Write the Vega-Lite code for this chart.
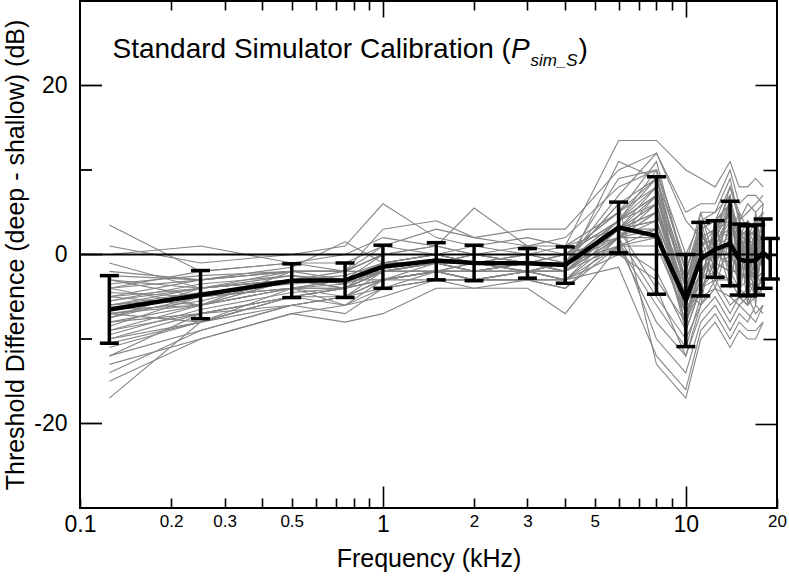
{
"$schema":"https://vega.github.io/schema/vega-lite/v6.json",
"width":697,"height":507,
"autosize":{"type":"none"},
"padding":{"left":80,"top":1,"right":12,"bottom":69},
"background":"white",
"config":{
 "view":{"stroke":"black","strokeWidth":2},
 "font":"Liberation Sans",
 "axis":{"labelFont":"Liberation Sans","titleFont":"Liberation Sans","labelColor":"black","titleColor":"black","tickColor":"black","tickWidth":1.6,"domain":false,"grid":false,"titleFontWeight":"normal","labelOverlap":false,"labelFlush":false}
},
"datasets":{
"one":[{"k":1}],
"ymajor":[{"v":-20},{"v":0},{"v":20}],
"yminor":[{"v":-10},{"v":10}],
"subj":[
{"s":1,"f":0.125,"d":3.5},{"s":1,"f":0.25,"d":-2},{"s":1,"f":0.5,"d":-1},{"s":1,"f":0.75,"d":-1},{"s":1,"f":1,"d":1},{"s":1,"f":1.5,"d":0},{"s":1,"f":2,"d":0},{"s":1,"f":3,"d":0},{"s":1,"f":4,"d":0},{"s":1,"f":6,"d":2},{"s":1,"f":8,"d":5},{"s":1,"f":10,"d":-6},{"s":1,"f":11.2,"d":4},{"s":1,"f":12.5,"d":-2},{"s":1,"f":14,"d":7},{"s":1,"f":15,"d":-1},{"s":1,"f":16,"d":3},{"s":1,"f":17,"d":-3},{"s":1,"f":18,"d":2},
{"s":2,"f":0.125,"d":1},{"s":2,"f":0.25,"d":-1},{"s":2,"f":0.5,"d":0},{"s":2,"f":0.75,"d":1},{"s":2,"f":1,"d":6},{"s":2,"f":1.5,"d":2},{"s":2,"f":2,"d":1},{"s":2,"f":3,"d":2},{"s":2,"f":4,"d":1},{"s":2,"f":6,"d":5},{"s":2,"f":8,"d":8},{"s":2,"f":10,"d":-2},{"s":2,"f":11.2,"d":3},{"s":2,"f":12.5,"d":4},{"s":2,"f":14,"d":6},{"s":2,"f":15,"d":3},{"s":2,"f":16,"d":2},{"s":2,"f":17,"d":4},{"s":2,"f":18,"d":5},
{"s":3,"f":0.125,"d":0},{"s":3,"f":0.25,"d":1},{"s":3,"f":0.5,"d":-1},{"s":3,"f":0.75,"d":0},{"s":3,"f":1,"d":2},{"s":3,"f":1.5,"d":1},{"s":3,"f":2,"d":5.5},{"s":3,"f":3,"d":1},{"s":3,"f":4,"d":2},{"s":3,"f":6,"d":8},{"s":3,"f":8,"d":10},{"s":3,"f":10,"d":0},{"s":3,"f":11.2,"d":4},{"s":3,"f":12.5,"d":2},{"s":3,"f":14,"d":8},{"s":3,"f":15,"d":5},{"s":3,"f":16,"d":3},{"s":3,"f":17,"d":2},{"s":3,"f":18,"d":1},
{"s":4,"f":0.125,"d":-2},{"s":4,"f":0.25,"d":-3},{"s":4,"f":0.5,"d":-2},{"s":4,"f":0.75,"d":-2},{"s":4,"f":1,"d":0},{"s":4,"f":1.5,"d":1},{"s":4,"f":2,"d":0},{"s":4,"f":3,"d":1},{"s":4,"f":4,"d":0},{"s":4,"f":6,"d":4},{"s":4,"f":8,"d":9},{"s":4,"f":10,"d":-4},{"s":4,"f":11.2,"d":-3},{"s":4,"f":12.5,"d":3},{"s":4,"f":14,"d":-2},{"s":4,"f":15,"d":4},{"s":4,"f":16,"d":-4},{"s":4,"f":17,"d":2},{"s":4,"f":18,"d":5},
{"s":5,"f":0.125,"d":-3},{"s":5,"f":0.25,"d":-4},{"s":5,"f":0.5,"d":-3},{"s":5,"f":0.75,"d":-3},{"s":5,"f":1,"d":-1},{"s":5,"f":1.5,"d":0},{"s":5,"f":2,"d":-1},{"s":5,"f":3,"d":0},{"s":5,"f":4,"d":-1},{"s":5,"f":6,"d":3},{"s":5,"f":8,"d":7},{"s":5,"f":10,"d":-5},{"s":5,"f":11.2,"d":3},{"s":5,"f":12.5,"d":-2},{"s":5,"f":14,"d":6},{"s":5,"f":15,"d":-3},{"s":5,"f":16,"d":2},{"s":5,"f":17,"d":-4},{"s":5,"f":18,"d":1},
{"s":6,"f":0.125,"d":-4},{"s":6,"f":0.25,"d":-3},{"s":6,"f":0.5,"d":-2},{"s":6,"f":0.75,"d":-2},{"s":6,"f":1,"d":-2},{"s":6,"f":1.5,"d":-1},{"s":6,"f":2,"d":0},{"s":6,"f":3,"d":-1},{"s":6,"f":4,"d":0},{"s":6,"f":6,"d":2},{"s":6,"f":8,"d":6},{"s":6,"f":10,"d":-7},{"s":6,"f":11.2,"d":-3},{"s":6,"f":12.5,"d":1},{"s":6,"f":14,"d":0},{"s":6,"f":15,"d":-2},{"s":6,"f":16,"d":-3},{"s":6,"f":17,"d":-1},{"s":6,"f":18,"d":0},
{"s":7,"f":0.125,"d":-4.5},{"s":7,"f":0.25,"d":-5},{"s":7,"f":0.5,"d":-3},{"s":7,"f":0.75,"d":-2.5},{"s":7,"f":1,"d":-1},{"s":7,"f":1.5,"d":0},{"s":7,"f":2,"d":-1},{"s":7,"f":3,"d":-1},{"s":7,"f":4,"d":-1},{"s":7,"f":6,"d":6},{"s":7,"f":8,"d":9},{"s":7,"f":10,"d":-3},{"s":7,"f":11.2,"d":2},{"s":7,"f":12.5,"d":3},{"s":7,"f":14,"d":5},{"s":7,"f":15,"d":1},{"s":7,"f":16,"d":2},{"s":7,"f":17,"d":3},{"s":7,"f":18,"d":4},
{"s":8,"f":0.125,"d":-5},{"s":8,"f":0.25,"d":-4},{"s":8,"f":0.5,"d":-2.5},{"s":8,"f":0.75,"d":-3},{"s":8,"f":1,"d":-2},{"s":8,"f":1.5,"d":-1},{"s":8,"f":2,"d":-2},{"s":8,"f":3,"d":-1},{"s":8,"f":4,"d":-2},{"s":8,"f":6,"d":3},{"s":8,"f":8,"d":4},{"s":8,"f":10,"d":-9},{"s":8,"f":11.2,"d":-4},{"s":8,"f":12.5,"d":-1},{"s":8,"f":14,"d":-2},{"s":8,"f":15,"d":-4},{"s":8,"f":16,"d":-5},{"s":8,"f":17,"d":-3},{"s":8,"f":18,"d":-2},
{"s":9,"f":0.125,"d":-5},{"s":9,"f":0.25,"d":-6},{"s":9,"f":0.5,"d":-4},{"s":9,"f":0.75,"d":-3},{"s":9,"f":1,"d":-1},{"s":9,"f":1.5,"d":-1},{"s":9,"f":2,"d":-1},{"s":9,"f":3,"d":-2},{"s":9,"f":4,"d":-1},{"s":9,"f":6,"d":1},{"s":9,"f":8,"d":2},{"s":9,"f":10,"d":-6},{"s":9,"f":11.2,"d":-5},{"s":9,"f":12.5,"d":2},{"s":9,"f":14,"d":-4},{"s":9,"f":15,"d":3},{"s":9,"f":16,"d":-3},{"s":9,"f":17,"d":4},{"s":9,"f":18,"d":-2},
{"s":10,"f":0.125,"d":-5.5},{"s":10,"f":0.25,"d":-4},{"s":10,"f":0.5,"d":-3},{"s":10,"f":0.75,"d":-4},{"s":10,"f":1,"d":-2},{"s":10,"f":1.5,"d":-2},{"s":10,"f":2,"d":-2},{"s":10,"f":3,"d":-1},{"s":10,"f":4,"d":-2},{"s":10,"f":6,"d":2},{"s":10,"f":8,"d":3},{"s":10,"f":10,"d":-8},{"s":10,"f":11.2,"d":-2},{"s":10,"f":12.5,"d":-1},{"s":10,"f":14,"d":2},{"s":10,"f":15,"d":-3},{"s":10,"f":16,"d":-2},{"s":10,"f":17,"d":-4},{"s":10,"f":18,"d":-3},
{"s":11,"f":0.125,"d":-6},{"s":11,"f":0.25,"d":-5},{"s":11,"f":0.5,"d":-3},{"s":11,"f":0.75,"d":-3},{"s":11,"f":1,"d":-1},{"s":11,"f":1.5,"d":0},{"s":11,"f":2,"d":0},{"s":11,"f":3,"d":-1},{"s":11,"f":4,"d":0},{"s":11,"f":6,"d":4},{"s":11,"f":8,"d":8},{"s":11,"f":10,"d":-4},{"s":11,"f":11.2,"d":1},{"s":11,"f":12.5,"d":2},{"s":11,"f":14,"d":6},{"s":11,"f":15,"d":2},{"s":11,"f":16,"d":1},{"s":11,"f":17,"d":0},{"s":11,"f":18,"d":2},
{"s":12,"f":0.125,"d":-6},{"s":12,"f":0.25,"d":-4.5},{"s":12,"f":0.5,"d":-3.5},{"s":12,"f":0.75,"d":-3},{"s":12,"f":1,"d":-3},{"s":12,"f":1.5,"d":-2},{"s":12,"f":2,"d":-1},{"s":12,"f":3,"d":-2},{"s":12,"f":4,"d":-1},{"s":12,"f":6,"d":3},{"s":12,"f":8,"d":6},{"s":12,"f":10,"d":-6},{"s":12,"f":11.2,"d":2},{"s":12,"f":12.5,"d":-3},{"s":12,"f":14,"d":4},{"s":12,"f":15,"d":-5},{"s":12,"f":16,"d":1},{"s":12,"f":17,"d":-6},{"s":12,"f":18,"d":3},
{"s":13,"f":0.125,"d":-6.5},{"s":13,"f":0.25,"d":-5},{"s":13,"f":0.5,"d":-4},{"s":13,"f":0.75,"d":-3},{"s":13,"f":1,"d":0},{"s":13,"f":1.5,"d":0},{"s":13,"f":2,"d":-1},{"s":13,"f":3,"d":0},{"s":13,"f":4,"d":-1},{"s":13,"f":6,"d":9},{"s":13,"f":8,"d":10},{"s":13,"f":10,"d":-2},{"s":13,"f":11.2,"d":3},{"s":13,"f":12.5,"d":4},{"s":13,"f":14,"d":8},{"s":13,"f":15,"d":4},{"s":13,"f":16,"d":5},{"s":13,"f":17,"d":6},{"s":13,"f":18,"d":7},
{"s":14,"f":0.125,"d":-6.5},{"s":14,"f":0.25,"d":-6},{"s":14,"f":0.5,"d":-2},{"s":14,"f":0.75,"d":-2},{"s":14,"f":1,"d":-2},{"s":14,"f":1.5,"d":-1},{"s":14,"f":2,"d":-2},{"s":14,"f":3,"d":-1},{"s":14,"f":4,"d":-1},{"s":14,"f":6,"d":2},{"s":14,"f":8,"d":-5},{"s":14,"f":10,"d":-10},{"s":14,"f":11.2,"d":-6},{"s":14,"f":12.5,"d":-3},{"s":14,"f":14,"d":-6},{"s":14,"f":15,"d":-5},{"s":14,"f":16,"d":-6},{"s":14,"f":17,"d":-5},{"s":14,"f":18,"d":-4},
{"s":15,"f":0.125,"d":-7},{"s":15,"f":0.25,"d":-5.5},{"s":15,"f":0.5,"d":-3},{"s":15,"f":0.75,"d":-4},{"s":15,"f":1,"d":-1},{"s":15,"f":1.5,"d":-1},{"s":15,"f":2,"d":0},{"s":15,"f":3,"d":-1},{"s":15,"f":4,"d":-2},{"s":15,"f":6,"d":3},{"s":15,"f":8,"d":5},{"s":15,"f":10,"d":-5},{"s":15,"f":11.2,"d":-4},{"s":15,"f":12.5,"d":4},{"s":15,"f":14,"d":-3},{"s":15,"f":15,"d":2},{"s":15,"f":16,"d":-6},{"s":15,"f":17,"d":5},{"s":15,"f":18,"d":0},
{"s":16,"f":0.125,"d":-7},{"s":16,"f":0.25,"d":-6},{"s":16,"f":0.5,"d":-4},{"s":16,"f":0.75,"d":-3.5},{"s":16,"f":1,"d":-2},{"s":16,"f":1.5,"d":-1},{"s":16,"f":2,"d":-1},{"s":16,"f":3,"d":-2},{"s":16,"f":4,"d":-1},{"s":16,"f":6,"d":1},{"s":16,"f":8,"d":-2},{"s":16,"f":10,"d":-9},{"s":16,"f":11.2,"d":-4},{"s":16,"f":12.5,"d":-2},{"s":16,"f":14,"d":-3},{"s":16,"f":15,"d":-4},{"s":16,"f":16,"d":-3},{"s":16,"f":17,"d":-5},{"s":16,"f":18,"d":-2},
{"s":17,"f":0.125,"d":-7.5},{"s":17,"f":0.25,"d":-5},{"s":17,"f":0.5,"d":-3},{"s":17,"f":0.75,"d":-3},{"s":17,"f":1,"d":-1},{"s":17,"f":1.5,"d":0},{"s":17,"f":2,"d":-1},{"s":17,"f":3,"d":-1},{"s":17,"f":4,"d":-1},{"s":17,"f":6,"d":4},{"s":17,"f":8,"d":7},{"s":17,"f":10,"d":-3},{"s":17,"f":11.2,"d":2},{"s":17,"f":12.5,"d":3},{"s":17,"f":14,"d":4},{"s":17,"f":15,"d":3},{"s":17,"f":16,"d":1},{"s":17,"f":17,"d":2},{"s":17,"f":18,"d":3},
{"s":18,"f":0.125,"d":-7.5},{"s":18,"f":0.25,"d":-4},{"s":18,"f":0.5,"d":-2},{"s":18,"f":0.75,"d":-2},{"s":18,"f":1,"d":0},{"s":18,"f":1.5,"d":1},{"s":18,"f":2,"d":0},{"s":18,"f":3,"d":0},{"s":18,"f":4,"d":0},{"s":18,"f":6,"d":2},{"s":18,"f":8,"d":4},{"s":18,"f":10,"d":-5},{"s":18,"f":11.2,"d":5},{"s":18,"f":12.5,"d":-1},{"s":18,"f":14,"d":3},{"s":18,"f":15,"d":-4},{"s":18,"f":16,"d":3},{"s":18,"f":17,"d":-2},{"s":18,"f":18,"d":6},
{"s":19,"f":0.125,"d":-8},{"s":19,"f":0.25,"d":-7},{"s":19,"f":0.5,"d":-5},{"s":19,"f":0.75,"d":-4},{"s":19,"f":1,"d":-3},{"s":19,"f":1.5,"d":-2},{"s":19,"f":2,"d":-2},{"s":19,"f":3,"d":-2},{"s":19,"f":4,"d":-2},{"s":19,"f":6,"d":1},{"s":19,"f":8,"d":-8},{"s":19,"f":10,"d":-12},{"s":19,"f":11.2,"d":-7},{"s":19,"f":12.5,"d":-5},{"s":19,"f":14,"d":-8},{"s":19,"f":15,"d":-6},{"s":19,"f":16,"d":-7},{"s":19,"f":17,"d":-8},{"s":19,"f":18,"d":-6},
{"s":20,"f":0.125,"d":-8},{"s":20,"f":0.25,"d":-6},{"s":20,"f":0.5,"d":-3},{"s":20,"f":0.75,"d":-3},{"s":20,"f":1,"d":-2},{"s":20,"f":1.5,"d":-1},{"s":20,"f":2,"d":-1},{"s":20,"f":3,"d":-1},{"s":20,"f":4,"d":-2},{"s":20,"f":6,"d":3},{"s":20,"f":8,"d":5},{"s":20,"f":10,"d":-4},{"s":20,"f":11.2,"d":-6},{"s":20,"f":12.5,"d":3},{"s":20,"f":14,"d":7},{"s":20,"f":15,"d":-2},{"s":20,"f":16,"d":4},{"s":20,"f":17,"d":-3},{"s":20,"f":18,"d":2},
{"s":21,"f":0.125,"d":-8.5},{"s":21,"f":0.25,"d":-5},{"s":21,"f":0.5,"d":-4},{"s":21,"f":0.75,"d":-5},{"s":21,"f":1,"d":-3},{"s":21,"f":1.5,"d":-2},{"s":21,"f":2,"d":-2},{"s":21,"f":3,"d":-2},{"s":21,"f":4,"d":-3},{"s":21,"f":6,"d":0},{"s":21,"f":8,"d":-3},{"s":21,"f":10,"d":-8},{"s":21,"f":11.2,"d":-3},{"s":21,"f":12.5,"d":-1},{"s":21,"f":14,"d":-2},{"s":21,"f":15,"d":-2},{"s":21,"f":16,"d":-3},{"s":21,"f":17,"d":-2},{"s":21,"f":18,"d":-4},
{"s":22,"f":0.125,"d":-9},{"s":22,"f":0.25,"d":-6},{"s":22,"f":0.5,"d":-4},{"s":22,"f":0.75,"d":-4},{"s":22,"f":1,"d":-2},{"s":22,"f":1.5,"d":-1},{"s":22,"f":2,"d":-2},{"s":22,"f":3,"d":-1},{"s":22,"f":4,"d":-1},{"s":22,"f":6,"d":3},{"s":22,"f":8,"d":6},{"s":22,"f":10,"d":-5},{"s":22,"f":11.2,"d":1},{"s":22,"f":12.5,"d":2},{"s":22,"f":14,"d":5},{"s":22,"f":15,"d":2},{"s":22,"f":16,"d":3},{"s":22,"f":17,"d":1},{"s":22,"f":18,"d":2},
{"s":23,"f":0.125,"d":-9},{"s":23,"f":0.25,"d":-7},{"s":23,"f":0.5,"d":-5},{"s":23,"f":0.75,"d":-4},{"s":23,"f":1,"d":-3},{"s":23,"f":1.5,"d":-3},{"s":23,"f":2,"d":-3},{"s":23,"f":3,"d":-2},{"s":23,"f":4,"d":-3},{"s":23,"f":6,"d":1},{"s":23,"f":8,"d":1},{"s":23,"f":10,"d":-7},{"s":23,"f":11.2,"d":-2},{"s":23,"f":12.5,"d":0},{"s":23,"f":14,"d":-1},{"s":23,"f":15,"d":-3},{"s":23,"f":16,"d":-2},{"s":23,"f":17,"d":-3},{"s":23,"f":18,"d":-2},
{"s":24,"f":0.125,"d":-10},{"s":24,"f":0.25,"d":-8},{"s":24,"f":0.5,"d":-5},{"s":24,"f":0.75,"d":-5},{"s":24,"f":1,"d":-4},{"s":24,"f":1.5,"d":-2},{"s":24,"f":2,"d":-3},{"s":24,"f":3,"d":-3},{"s":24,"f":4,"d":-3},{"s":24,"f":6,"d":2},{"s":24,"f":8,"d":-10},{"s":24,"f":10,"d":-14},{"s":24,"f":11.2,"d":-8},{"s":24,"f":12.5,"d":-6},{"s":24,"f":14,"d":-9},{"s":24,"f":15,"d":-7},{"s":24,"f":16,"d":-8},{"s":24,"f":17,"d":-6},{"s":24,"f":18,"d":-7},
{"s":25,"f":0.125,"d":-10},{"s":25,"f":0.25,"d":-7},{"s":25,"f":0.5,"d":-6},{"s":25,"f":0.75,"d":-5},{"s":25,"f":1,"d":-2},{"s":25,"f":1.5,"d":-2},{"s":25,"f":2,"d":-2},{"s":25,"f":3,"d":-2},{"s":25,"f":4,"d":-2},{"s":25,"f":6,"d":4},{"s":25,"f":8,"d":7},{"s":25,"f":10,"d":-3},{"s":25,"f":11.2,"d":3},{"s":25,"f":12.5,"d":4},{"s":25,"f":14,"d":6},{"s":25,"f":15,"d":2},{"s":25,"f":16,"d":3},{"s":25,"f":17,"d":4},{"s":25,"f":18,"d":1},
{"s":26,"f":0.125,"d":-11},{"s":26,"f":0.25,"d":-8},{"s":26,"f":0.5,"d":-4},{"s":26,"f":0.75,"d":-6},{"s":26,"f":1,"d":-4},{"s":26,"f":1.5,"d":-3},{"s":26,"f":2,"d":-3},{"s":26,"f":3,"d":-3},{"s":26,"f":4,"d":-4},{"s":26,"f":6,"d":1},{"s":26,"f":8,"d":3},{"s":26,"f":10,"d":-7},{"s":26,"f":11.2,"d":-3},{"s":26,"f":12.5,"d":-2},{"s":26,"f":14,"d":0},{"s":26,"f":15,"d":-2},{"s":26,"f":16,"d":-3},{"s":26,"f":17,"d":-4},{"s":26,"f":18,"d":-3},
{"s":27,"f":0.125,"d":-12},{"s":27,"f":0.25,"d":-9},{"s":27,"f":0.5,"d":-6},{"s":27,"f":0.75,"d":-5},{"s":27,"f":1,"d":-3},{"s":27,"f":1.5,"d":-2},{"s":27,"f":2,"d":-3},{"s":27,"f":3,"d":-2},{"s":27,"f":4,"d":-2},{"s":27,"f":6,"d":11},{"s":27,"f":8,"d":9},{"s":27,"f":10,"d":-1},{"s":27,"f":11.2,"d":5},{"s":27,"f":12.5,"d":5},{"s":27,"f":14,"d":9},{"s":27,"f":15,"d":4},{"s":27,"f":16,"d":6},{"s":27,"f":17,"d":5},{"s":27,"f":18,"d":6},
{"s":28,"f":0.125,"d":-13},{"s":28,"f":0.25,"d":-10},{"s":28,"f":0.5,"d":-7},{"s":28,"f":0.75,"d":-6},{"s":28,"f":1,"d":-5},{"s":28,"f":1.5,"d":-3},{"s":28,"f":2,"d":-4},{"s":28,"f":3,"d":-3},{"s":28,"f":4,"d":-3},{"s":28,"f":6,"d":-1.5},{"s":28,"f":8,"d":-12},{"s":28,"f":10,"d":-16},{"s":28,"f":11.2,"d":-9},{"s":28,"f":12.5,"d":-7},{"s":28,"f":14,"d":-10},{"s":28,"f":15,"d":-8},{"s":28,"f":16,"d":-9},{"s":28,"f":17,"d":-9},{"s":28,"f":18,"d":-8},
{"s":29,"f":0.125,"d":-14},{"s":29,"f":0.25,"d":-9},{"s":29,"f":0.5,"d":-6},{"s":29,"f":0.75,"d":-7},{"s":29,"f":1,"d":-4},{"s":29,"f":1.5,"d":-3},{"s":29,"f":2,"d":-3},{"s":29,"f":3,"d":-3},{"s":29,"f":4,"d":-4},{"s":29,"f":6,"d":2},{"s":29,"f":8,"d":2},{"s":29,"f":10,"d":-8},{"s":29,"f":11.2,"d":-4},{"s":29,"f":12.5,"d":-3},{"s":29,"f":14,"d":-3},{"s":29,"f":15,"d":-5},{"s":29,"f":16,"d":-4},{"s":29,"f":17,"d":-3},{"s":29,"f":18,"d":-5},
{"s":30,"f":0.125,"d":-15},{"s":30,"f":0.25,"d":-10},{"s":30,"f":0.5,"d":-7},{"s":30,"f":0.75,"d":-8},{"s":30,"f":1,"d":-7},{"s":30,"f":1.5,"d":-4},{"s":30,"f":2,"d":-4},{"s":30,"f":3,"d":-4},{"s":30,"f":4,"d":-7},{"s":30,"f":6,"d":1},{"s":30,"f":8,"d":-6},{"s":30,"f":10,"d":-11},{"s":30,"f":11.2,"d":-5},{"s":30,"f":12.5,"d":-4},{"s":30,"f":14,"d":-5},{"s":30,"f":15,"d":-6},{"s":30,"f":16,"d":-5},{"s":30,"f":17,"d":-7},{"s":30,"f":18,"d":-6},
{"s":31,"f":0.125,"d":-17},{"s":31,"f":0.25,"d":-8},{"s":31,"f":0.5,"d":-5},{"s":31,"f":0.75,"d":-6},{"s":31,"f":1,"d":-3},{"s":31,"f":1.5,"d":-2},{"s":31,"f":2,"d":-3},{"s":31,"f":3,"d":-2},{"s":31,"f":4,"d":-3},{"s":31,"f":6,"d":3},{"s":31,"f":8,"d":4},{"s":31,"f":10,"d":-6},{"s":31,"f":11.2,"d":-2},{"s":31,"f":12.5,"d":1},{"s":31,"f":14,"d":2},{"s":31,"f":15,"d":-1},{"s":31,"f":16,"d":-2},{"s":31,"f":17,"d":0},{"s":31,"f":18,"d":-1},
{"s":32,"f":0.125,"d":-5},{"s":32,"f":0.25,"d":-3},{"s":32,"f":0.5,"d":-2},{"s":32,"f":0.75,"d":-2},{"s":32,"f":1,"d":1},{"s":32,"f":1.5,"d":3},{"s":32,"f":2,"d":2},{"s":32,"f":3,"d":1},{"s":32,"f":4,"d":1},{"s":32,"f":6,"d":13.5},{"s":32,"f":8,"d":13.5},{"s":32,"f":10,"d":10},{"s":32,"f":11.2,"d":9},{"s":32,"f":12.5,"d":8},{"s":32,"f":14,"d":11},{"s":32,"f":15,"d":8},{"s":32,"f":16,"d":8},{"s":32,"f":17,"d":9},{"s":32,"f":18,"d":8},
{"s":33,"f":0.125,"d":-4},{"s":33,"f":0.25,"d":-2},{"s":33,"f":0.5,"d":-1},{"s":33,"f":0.75,"d":-2},{"s":33,"f":1,"d":3},{"s":33,"f":1.5,"d":4},{"s":33,"f":2,"d":2},{"s":33,"f":3,"d":3},{"s":33,"f":4,"d":3},{"s":33,"f":6,"d":10},{"s":33,"f":8,"d":12},{"s":33,"f":10,"d":5},{"s":33,"f":11.2,"d":6},{"s":33,"f":12.5,"d":6},{"s":33,"f":14,"d":10},{"s":33,"f":15,"d":6},{"s":33,"f":16,"d":7},{"s":33,"f":17,"d":7},{"s":33,"f":18,"d":6},
{"s":34,"f":0.125,"d":-3},{"s":34,"f":0.25,"d":-5},{"s":34,"f":0.5,"d":-4},{"s":34,"f":0.75,"d":-4},{"s":34,"f":1,"d":-1},{"s":34,"f":1.5,"d":-1},{"s":34,"f":2,"d":-2},{"s":34,"f":3,"d":-1},{"s":34,"f":4,"d":-1},{"s":34,"f":6,"d":6},{"s":34,"f":8,"d":-13},{"s":34,"f":10,"d":-17},{"s":34,"f":11.2,"d":-10},{"s":34,"f":12.5,"d":-8},{"s":34,"f":14,"d":-11},{"s":34,"f":15,"d":-9},{"s":34,"f":16,"d":-10},{"s":34,"f":17,"d":-10},{"s":34,"f":18,"d":-8},
{"s":35,"f":0.125,"d":-6},{"s":35,"f":0.25,"d":-4},{"s":35,"f":0.5,"d":-3},{"s":35,"f":0.75,"d":-3},{"s":35,"f":1,"d":-2},{"s":35,"f":1.5,"d":-1},{"s":35,"f":2,"d":-1},{"s":35,"f":3,"d":-1},{"s":35,"f":4,"d":-1},{"s":35,"f":6,"d":7},{"s":35,"f":8,"d":12},{"s":35,"f":10,"d":4},{"s":35,"f":11.2,"d":2},{"s":35,"f":12.5,"d":3},{"s":35,"f":14,"d":6},{"s":35,"f":15,"d":3},{"s":35,"f":16,"d":2},{"s":35,"f":17,"d":3},{"s":35,"f":18,"d":4},
{"s":36,"f":0.125,"d":-2.5},{"s":36,"f":0.25,"d":-3},{"s":36,"f":0.5,"d":-1.5},{"s":36,"f":0.75,"d":1.5},{"s":36,"f":1,"d":-1},{"s":36,"f":1.5,"d":0},{"s":36,"f":2,"d":-1},{"s":36,"f":3,"d":0},{"s":36,"f":4,"d":1},{"s":36,"f":6,"d":3},{"s":36,"f":8,"d":3},{"s":36,"f":10,"d":-6},{"s":36,"f":11.2,"d":1},{"s":36,"f":12.5,"d":-4},{"s":36,"f":14,"d":2},{"s":36,"f":15,"d":5},{"s":36,"f":16,"d":-5},{"s":36,"f":17,"d":4},{"s":36,"f":18,"d":-1},
{"s":37,"f":0.125,"d":-3.5},{"s":37,"f":0.25,"d":-2.5},{"s":37,"f":0.5,"d":-2},{"s":37,"f":0.75,"d":-3},{"s":37,"f":1,"d":-1},{"s":37,"f":1.5,"d":-1},{"s":37,"f":2,"d":0},{"s":37,"f":3,"d":-1},{"s":37,"f":4,"d":-1},{"s":37,"f":6,"d":4},{"s":37,"f":8,"d":6},{"s":37,"f":10,"d":-5},{"s":37,"f":11.2,"d":0},{"s":37,"f":12.5,"d":2},{"s":37,"f":14,"d":3},{"s":37,"f":15,"d":1},{"s":37,"f":16,"d":0},{"s":37,"f":17,"d":2},{"s":37,"f":18,"d":1},
{"s":38,"f":0.125,"d":-9.5},{"s":38,"f":0.25,"d":-6.5},{"s":38,"f":0.5,"d":-4.5},{"s":38,"f":0.75,"d":-4},{"s":38,"f":1,"d":-2},{"s":38,"f":1.5,"d":-1},{"s":38,"f":2,"d":-1},{"s":38,"f":3,"d":-1},{"s":38,"f":4,"d":-2},{"s":38,"f":6,"d":2},{"s":38,"f":8,"d":7},{"s":38,"f":10,"d":-6},{"s":38,"f":11.2,"d":-1},{"s":38,"f":12.5,"d":1},{"s":38,"f":14,"d":4},{"s":38,"f":15,"d":0},{"s":38,"f":16,"d":-2},{"s":38,"f":17,"d":1},{"s":38,"f":18,"d":-1},
{"s":39,"f":0.125,"d":-1},{"s":39,"f":0.25,"d":-4},{"s":39,"f":0.5,"d":-3},{"s":39,"f":0.75,"d":-2},{"s":39,"f":1,"d":0},{"s":39,"f":1.5,"d":0},{"s":39,"f":2,"d":1},{"s":39,"f":3,"d":0},{"s":39,"f":4,"d":0},{"s":39,"f":6,"d":5},{"s":39,"f":8,"d":9},{"s":39,"f":10,"d":-4},{"s":39,"f":11.2,"d":2},{"s":39,"f":12.5,"d":1},{"s":39,"f":14,"d":5},{"s":39,"f":15,"d":-1},{"s":39,"f":16,"d":2},{"s":39,"f":17,"d":0},{"s":39,"f":18,"d":3},
{"s":40,"f":0.125,"d":-12},{"s":40,"f":0.25,"d":-7},{"s":40,"f":0.5,"d":-5},{"s":40,"f":0.75,"d":-4},{"s":40,"f":1,"d":-2},{"s":40,"f":1.5,"d":-2},{"s":40,"f":2,"d":-2},{"s":40,"f":3,"d":-1},{"s":40,"f":4,"d":-2},{"s":40,"f":6,"d":3},{"s":40,"f":8,"d":8},{"s":40,"f":10,"d":-7},{"s":40,"f":11.2,"d":-2},{"s":40,"f":12.5,"d":0},{"s":40,"f":14,"d":1},{"s":40,"f":15,"d":-2},{"s":40,"f":16,"d":-1},{"s":40,"f":17,"d":-3},{"s":40,"f":18,"d":0},
{"s":41,"f":0.125,"d":-5.5},{"s":41,"f":0.25,"d":-3.5},{"s":41,"f":0.5,"d":-2.5},{"s":41,"f":0.75,"d":-3.5},{"s":41,"f":1,"d":-1},{"s":41,"f":1.5,"d":-1},{"s":41,"f":2,"d":-1},{"s":41,"f":3,"d":-2},{"s":41,"f":4,"d":-1},{"s":41,"f":6,"d":4},{"s":41,"f":8,"d":10},{"s":41,"f":10,"d":-9},{"s":41,"f":11.2,"d":3},{"s":41,"f":12.5,"d":-1},{"s":41,"f":14,"d":6},{"s":41,"f":15,"d":2},{"s":41,"f":16,"d":-3},{"s":41,"f":17,"d":3},{"s":41,"f":18,"d":-2},
{"s":42,"f":0.125,"d":-7},{"s":42,"f":0.25,"d":-8},{"s":42,"f":0.5,"d":-5},{"s":42,"f":0.75,"d":-4},{"s":42,"f":1,"d":-3},{"s":42,"f":1.5,"d":-1},{"s":42,"f":2,"d":-2},{"s":42,"f":3,"d":-2},{"s":42,"f":4,"d":-2},{"s":42,"f":6,"d":2},{"s":42,"f":8,"d":5},{"s":42,"f":10,"d":-3},{"s":42,"f":11.2,"d":1},{"s":42,"f":12.5,"d":3},{"s":42,"f":14,"d":2},{"s":42,"f":15,"d":3},{"s":42,"f":16,"d":1},{"s":42,"f":17,"d":-1},{"s":42,"f":18,"d":2},
{"s":43,"f":0.125,"d":-4},{"s":43,"f":0.25,"d":-6},{"s":43,"f":0.5,"d":-3},{"s":43,"f":0.75,"d":-3},{"s":43,"f":1,"d":-2},{"s":43,"f":1.5,"d":-2},{"s":43,"f":2,"d":-1},{"s":43,"f":3,"d":-1},{"s":43,"f":4,"d":0},{"s":43,"f":6,"d":5},{"s":43,"f":8,"d":11},{"s":43,"f":10,"d":-2},{"s":43,"f":11.2,"d":4},{"s":43,"f":12.5,"d":5},{"s":43,"f":14,"d":7},{"s":43,"f":15,"d":2},{"s":43,"f":16,"d":4},{"s":43,"f":17,"d":3},{"s":43,"f":18,"d":5},
{"s":44,"f":0.125,"d":-10.5},{"s":44,"f":0.25,"d":-8},{"s":44,"f":0.5,"d":-6},{"s":44,"f":0.75,"d":-5},{"s":44,"f":1,"d":-3},{"s":44,"f":1.5,"d":-2},{"s":44,"f":2,"d":-3},{"s":44,"f":3,"d":-2},{"s":44,"f":4,"d":-2},{"s":44,"f":6,"d":3},{"s":44,"f":8,"d":-4},{"s":44,"f":10,"d":-12},{"s":44,"f":11.2,"d":-6},{"s":44,"f":12.5,"d":-4},{"s":44,"f":14,"d":-7},{"s":44,"f":15,"d":-5},{"s":44,"f":16,"d":-6},{"s":44,"f":17,"d":-4},{"s":44,"f":18,"d":-5}
],
"mean":[
{"f":0.125,"m":-6.5,"lo":-10.5,"hi":-2.5},
{"f":0.25,"m":-4.8,"lo":-7.6,"hi":-1.9},
{"f":0.5,"m":-3.1,"lo":-5.1,"hi":-1.1},
{"f":0.75,"m":-3.05,"lo":-5.1,"hi":-1.0},
{"f":1,"m":-1.45,"lo":-4.0,"hi":1.1},
{"f":1.5,"m":-0.7,"lo":-3.0,"hi":1.4},
{"f":2,"m":-1.0,"lo":-3.1,"hi":1.1},
{"f":3,"m":-1.05,"lo":-2.8,"hi":0.7},
{"f":4,"m":-1.25,"lo":-3.4,"hi":0.9},
{"f":6,"m":3.2,"lo":0.2,"hi":6.2},
{"f":8,"m":2.2,"lo":-4.7,"hi":9.2},
{"f":10,"m":-5.4,"lo":-10.9,"hi":0.0},
{"f":11.2,"m":-0.5,"lo":-4.9,"hi":3.8},
{"f":12.5,"m":0.6,"lo":-2.7,"hi":4.0},
{"f":14,"m":1.3,"lo":-3.7,"hi":6.3},
{"f":15,"m":-0.6,"lo":-4.8,"hi":3.6},
{"f":16,"m":-0.8,"lo":-4.9,"hi":3.4},
{"f":17,"m":-0.7,"lo":-4.8,"hi":3.5},
{"f":18,"m":0.2,"lo":-4.0,"hi":4.2},
{"f":19,"m":-0.5,"lo":-2.9,"hi":1.9}
]
},
"resolve":{"axis":{"x":"independent","y":"independent"}},
"layer":[
{
 "data":{"name":"subj"},
 "mark":{"type":"line","color":"#858585","strokeWidth":1.1},
 "encoding":{
  "x":{"field":"f","type":"quantitative","scale":{"type":"log","domain":[0.1,20],"nice":false},
   "axis":{"orient":"bottom","values":[0.1,0.2,0.3,0.4,0.5,0.6,0.7,0.8,0.9,1,2,3,4,5,6,7,8,9,10,20],
    "labelExpr":"indexof([0.1,0.2,0.3,0.5,1,2,3,5,10,20], datum.value) >= 0 ? '' + datum.value : ''",
    "labelFontSize":{"condition":{"test":"datum.value == 0.1 || datum.value == 1 || datum.value == 10","value":23},"value":17},
    "tickSize":{"condition":{"test":"datum.value == 1 || datum.value == 10","value":-22},"value":-10},
    "labelPadding":{"condition":{"test":"datum.value == 1 || datum.value == 10","value":27},"value":15},
    "labelBaseline":"top",
    "title":"Frequency (kHz)","titleFontSize":25,"titlePadding":10}},
  "y":{"field":"d","type":"quantitative","scale":{"domain":[-30,30],"nice":false,"zero":false},
   "axis":{"orient":"left","values":[-20,0,20],
    "labelExpr":"'' + datum.value",
    "labelFontSize":23,
    "ticks":false,"labelPadding":13,
    "title":"Threshold Difference (deep - shallow) (dB)","titleFontSize":25,"titlePadding":5}},
  "detail":{"field":"s","type":"nominal"}
 }
},
{
 "data":{"name":"ymajor"},
 "mark":{"type":"rule","color":"black","strokeWidth":1.8},
 "encoding":{
  "x":{"datum":0.1,"type":"quantitative","axis":null},
  "x2":{"datum":0.1182},
  "y":{"field":"v","type":"quantitative","axis":null}
 }
},
{
 "data":{"name":"yminor"},
 "mark":{"type":"rule","color":"black","strokeWidth":1.8},
 "encoding":{
  "x":{"datum":0.1,"type":"quantitative","axis":null},
  "x2":{"datum":0.1096},
  "y":{"field":"v","type":"quantitative","axis":null}
 }
},
{
 "data":{"name":"one"},
 "mark":{"type":"rule","color":"black","strokeWidth":2},
 "encoding":{"y":{"datum":0,"type":"quantitative","axis":null}}
},
{
 "data":{"name":"mean"},
 "mark":{"type":"rule","color":"black","strokeWidth":3.5},
 "encoding":{
  "x":{"field":"f","type":"quantitative","axis":null},
  "y":{"field":"lo","type":"quantitative","axis":null},
  "y2":{"field":"hi"}
 }
},
{
 "data":{"name":"mean"},
 "mark":{"type":"tick","orient":"horizontal","color":"black","opacity":1,"size":19,"thickness":3.5},
 "encoding":{
  "x":{"field":"f","type":"quantitative","axis":null},
  "y":{"field":"lo","type":"quantitative","axis":null}
 }
},
{
 "data":{"name":"mean"},
 "mark":{"type":"tick","orient":"horizontal","color":"black","opacity":1,"size":19,"thickness":3.5},
 "encoding":{
  "x":{"field":"f","type":"quantitative","axis":null},
  "y":{"field":"hi","type":"quantitative","axis":null}
 }
},
{
 "data":{"name":"mean"},
 "mark":{"type":"line","color":"black","strokeWidth":4.5,"strokeJoin":"miter"},
 "encoding":{
  "x":{"field":"f","type":"quantitative",
   "axis":{"orient":"top","values":[0.2,0.3,0.4,0.5,0.6,0.7,0.8,0.9,1,2,3,4,5,6,7,8,9,10],"labels":false,"title":null,
    "tickSize":{"condition":{"test":"datum.value == 1 || datum.value == 10","value":-16},"value":-9}}},
  "y":{"field":"m","type":"quantitative",
   "axis":{"orient":"right","values":[-20,-10,0,10,20],"labels":false,"title":null,
    "tickSize":{"condition":{"test":"datum.value == -20 || datum.value == 0 || datum.value == 20","value":-22},"value":-14}}}
 }
},
{
 "data":{"name":"one"},
 "mark":{"type":"text","align":"left","baseline":"alphabetic","fontSize":28,"font":"Liberation Sans","color":"black","text":"Standard Simulator Calibration ("},
 "encoding":{"x":{"datum":0.128,"type":"quantitative","axis":null},"y":{"datum":23.3,"type":"quantitative","axis":null}}
},
{
 "data":{"name":"one"},
 "mark":{"type":"text","align":"left","baseline":"alphabetic","fontSize":28,"fontStyle":"italic","font":"Liberation Sans","color":"black","text":"P"},
 "encoding":{"x":{"datum":2.646,"type":"quantitative","axis":null},"y":{"datum":23.3,"type":"quantitative","axis":null}}
},
{
 "data":{"name":"one"},
 "mark":{"type":"text","align":"left","baseline":"alphabetic","fontSize":17,"fontStyle":"italic","font":"Liberation Sans","color":"black","text":"sim_S"},
 "encoding":{"x":{"datum":3.07,"type":"quantitative","axis":null},"y":{"datum":22.35,"type":"quantitative","axis":null}}
},
{
 "data":{"name":"one"},
 "mark":{"type":"text","align":"left","baseline":"alphabetic","fontSize":28,"font":"Liberation Sans","color":"black","text":")"},
 "encoding":{"x":{"datum":4.42,"type":"quantitative","axis":null},"y":{"datum":23.3,"type":"quantitative","axis":null}}
}
]
}
